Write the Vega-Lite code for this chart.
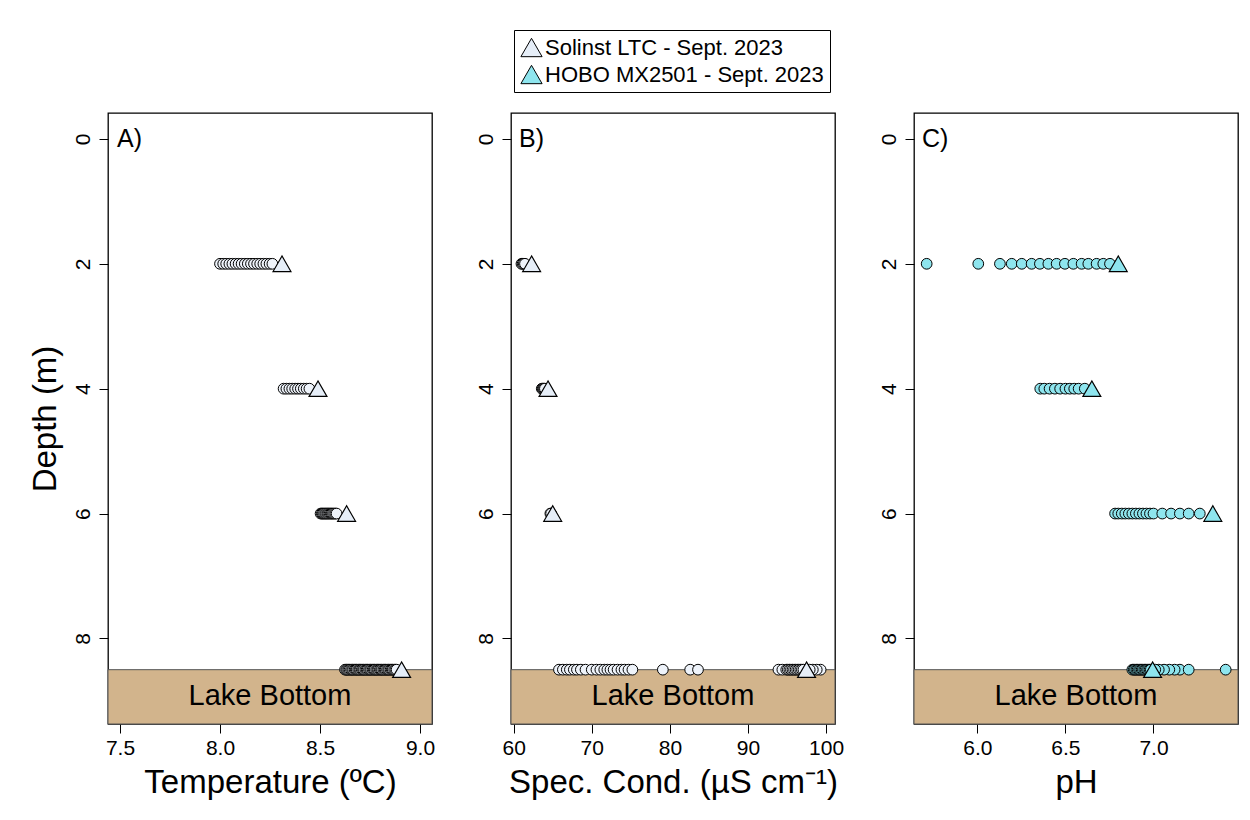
{
  "$schema": "https://vega.github.io/schema/vega-lite/v6.json",
  "background": "white",
  "padding": {"left": 28, "top": 29, "right": 5, "bottom": 5},
  "bounds": "flush",
  "spacing": 79,
  "config": {
    "font": "Liberation Sans",
    "view": {"stroke": "black", "strokeWidth": 1.3},
    "axis": {
      "domain": false, "grid": false, "ticks": true,
      "tickColor": "black", "tickSize": 9, "tickWidth": 1,
      "labelFont": "Liberation Sans", "labelFontSize": 21, "labelColor": "black",
      "titleFont": "Liberation Sans", "titleFontSize": 33, "titleFontWeight": "normal", "titleColor": "black"
    },
    "legend": {
      "orient": "none", "legendX": 406, "legendY": -83,
      "strokeColor": "black", "fillColor": "white", "padding": 6, "cornerRadius": 0,
      "labelFont": "Liberation Sans", "labelFontSize": 22, "labelColor": "black", "labelOffset": 2, "labelLimit": 0,
      "symbolType": "triangle-up", "symbolSize": 450, "symbolStrokeColor": "black", "symbolStrokeWidth": 1,
      "rowPadding": 4, "titlePadding": 0
    }
  },
  "datasets": {
    "bottom": [{"top": 8.5, "floor": 9.37, "label": "Lake Bottom", "mid": 8.92}],
    "temp_obs": [
      {"depth": 2, "v": 8.000}, {"depth": 2, "v": 8.016}, {"depth": 2, "v": 8.031}, {"depth": 2, "v": 8.047},
      {"depth": 2, "v": 8.062}, {"depth": 2, "v": 8.078}, {"depth": 2, "v": 8.093}, {"depth": 2, "v": 8.108},
      {"depth": 2, "v": 8.124}, {"depth": 2, "v": 8.139}, {"depth": 2, "v": 8.155}, {"depth": 2, "v": 8.170},
      {"depth": 2, "v": 8.186}, {"depth": 2, "v": 8.201}, {"depth": 2, "v": 8.217}, {"depth": 2, "v": 8.232},
      {"depth": 2, "v": 8.248}, {"depth": 2, "v": 8.262},
      {"depth": 4, "v": 8.318}, {"depth": 4, "v": 8.332}, {"depth": 4, "v": 8.347}, {"depth": 4, "v": 8.361},
      {"depth": 4, "v": 8.376}, {"depth": 4, "v": 8.390}, {"depth": 4, "v": 8.404}, {"depth": 4, "v": 8.419},
      {"depth": 4, "v": 8.433}, {"depth": 4, "v": 8.447},
      {"depth": 6, "v": 8.503}, {"depth": 6, "v": 8.509}, {"depth": 6, "v": 8.514}, {"depth": 6, "v": 8.520},
      {"depth": 6, "v": 8.526}, {"depth": 6, "v": 8.531}, {"depth": 6, "v": 8.537}, {"depth": 6, "v": 8.542},
      {"depth": 6, "v": 8.548}, {"depth": 6, "v": 8.554}, {"depth": 6, "v": 8.559}, {"depth": 6, "v": 8.565},
      {"depth": 6, "v": 8.571}, {"depth": 6, "v": 8.577}, {"depth": 6, "v": 8.583},
      {"depth": 8.5, "v": 8.625}, {"depth": 8.5, "v": 8.631}, {"depth": 8.5, "v": 8.636}, {"depth": 8.5, "v": 8.642},
      {"depth": 8.5, "v": 8.648}, {"depth": 8.5, "v": 8.655}, {"depth": 8.5, "v": 8.661}, {"depth": 8.5, "v": 8.666},
      {"depth": 8.5, "v": 8.673}, {"depth": 8.5, "v": 8.679}, {"depth": 8.5, "v": 8.684}, {"depth": 8.5, "v": 8.691},
      {"depth": 8.5, "v": 8.697}, {"depth": 8.5, "v": 8.702}, {"depth": 8.5, "v": 8.709}, {"depth": 8.5, "v": 8.715},
      {"depth": 8.5, "v": 8.720}, {"depth": 8.5, "v": 8.727}, {"depth": 8.5, "v": 8.733}, {"depth": 8.5, "v": 8.738},
      {"depth": 8.5, "v": 8.745}, {"depth": 8.5, "v": 8.751}, {"depth": 8.5, "v": 8.756}, {"depth": 8.5, "v": 8.763},
      {"depth": 8.5, "v": 8.769}, {"depth": 8.5, "v": 8.774}, {"depth": 8.5, "v": 8.781}, {"depth": 8.5, "v": 8.787},
      {"depth": 8.5, "v": 8.792}, {"depth": 8.5, "v": 8.799}, {"depth": 8.5, "v": 8.805}, {"depth": 8.5, "v": 8.810},
      {"depth": 8.5, "v": 8.817}, {"depth": 8.5, "v": 8.823}, {"depth": 8.5, "v": 8.828}, {"depth": 8.5, "v": 8.835},
      {"depth": 8.5, "v": 8.841}, {"depth": 8.5, "v": 8.846}, {"depth": 8.5, "v": 8.853}, {"depth": 8.5, "v": 8.859},
      {"depth": 8.5, "v": 8.864}, {"depth": 8.5, "v": 8.871}, {"depth": 8.5, "v": 8.877}, {"depth": 8.5, "v": 8.883}
    ],
    "temp_tri": [
      {"depth": 2, "v": 8.31}, {"depth": 4, "v": 8.49}, {"depth": 6, "v": 8.633}, {"depth": 8.5, "v": 8.908}
    ],
    "cond_obs": [
      {"depth": 2, "v": 61.0}, {"depth": 2, "v": 61.15}, {"depth": 2, "v": 61.3}, {"depth": 2, "v": 61.45},
      {"depth": 4, "v": 63.6}, {"depth": 4, "v": 63.7}, {"depth": 4, "v": 63.8}, {"depth": 4, "v": 63.9}, {"depth": 4, "v": 64.0},
      {"depth": 6, "v": 64.7}, {"depth": 6, "v": 64.8},
      {"depth": 8.5, "v": 65.8}, {"depth": 8.5, "v": 66.3}, {"depth": 8.5, "v": 66.8}, {"depth": 8.5, "v": 67.2},
      {"depth": 8.5, "v": 67.7}, {"depth": 8.5, "v": 68.1}, {"depth": 8.5, "v": 68.6}, {"depth": 8.5, "v": 69.2},
      {"depth": 8.5, "v": 70.0}, {"depth": 8.5, "v": 70.6}, {"depth": 8.5, "v": 71.1}, {"depth": 8.5, "v": 71.6},
      {"depth": 8.5, "v": 72.0}, {"depth": 8.5, "v": 72.4}, {"depth": 8.5, "v": 72.8}, {"depth": 8.5, "v": 73.3},
      {"depth": 8.5, "v": 73.8}, {"depth": 8.5, "v": 74.2}, {"depth": 8.5, "v": 74.7}, {"depth": 8.5, "v": 75.2},
      {"depth": 8.5, "v": 79.1}, {"depth": 8.5, "v": 82.6}, {"depth": 8.5, "v": 83.6},
      {"depth": 8.5, "v": 93.9}, {"depth": 8.5, "v": 94.4}, {"depth": 8.5, "v": 94.9}, {"depth": 8.5, "v": 95.1},
      {"depth": 8.5, "v": 95.3}, {"depth": 8.5, "v": 95.5}, {"depth": 8.5, "v": 95.7}, {"depth": 8.5, "v": 95.9},
      {"depth": 8.5, "v": 96.1}, {"depth": 8.5, "v": 96.3}, {"depth": 8.5, "v": 96.5}, {"depth": 8.5, "v": 96.7},
      {"depth": 8.5, "v": 96.9}, {"depth": 8.5, "v": 97.1}, {"depth": 8.5, "v": 99.3}, {"depth": 8.5, "v": 98.8},
      {"depth": 8.5, "v": 98.3}, {"depth": 8.5, "v": 97.9}
    ],
    "cond_tri": [
      {"depth": 2, "v": 62.3, "series": "Solinst LTC - Sept. 2023"},
      {"depth": 4, "v": 64.4, "series": "Solinst LTC - Sept. 2023"},
      {"depth": 6, "v": 65.0, "series": "Solinst LTC - Sept. 2023"},
      {"depth": 8.5, "v": 97.5, "series": "Solinst LTC - Sept. 2023"}
    ],
    "ph_obs": [
      {"depth": 2, "v": 5.712}, {"depth": 2, "v": 6.005}, {"depth": 2, "v": 6.128}, {"depth": 2, "v": 6.195},
      {"depth": 2, "v": 6.252}, {"depth": 2, "v": 6.308}, {"depth": 2, "v": 6.355}, {"depth": 2, "v": 6.403},
      {"depth": 2, "v": 6.450}, {"depth": 2, "v": 6.497}, {"depth": 2, "v": 6.545}, {"depth": 2, "v": 6.592},
      {"depth": 2, "v": 6.630}, {"depth": 2, "v": 6.677}, {"depth": 2, "v": 6.715}, {"depth": 2, "v": 6.753},
      {"depth": 4, "v": 6.357}, {"depth": 4, "v": 6.38}, {"depth": 4, "v": 6.41}, {"depth": 4, "v": 6.44},
      {"depth": 4, "v": 6.47}, {"depth": 4, "v": 6.50}, {"depth": 4, "v": 6.525}, {"depth": 4, "v": 6.55},
      {"depth": 4, "v": 6.575}, {"depth": 4, "v": 6.61},
      {"depth": 6, "v": 6.782}, {"depth": 6, "v": 6.80}, {"depth": 6, "v": 6.82}, {"depth": 6, "v": 6.84},
      {"depth": 6, "v": 6.86}, {"depth": 6, "v": 6.88}, {"depth": 6, "v": 6.90}, {"depth": 6, "v": 6.92},
      {"depth": 6, "v": 6.94}, {"depth": 6, "v": 6.96}, {"depth": 6, "v": 6.98}, {"depth": 6, "v": 7.00},
      {"depth": 6, "v": 7.05}, {"depth": 6, "v": 7.10}, {"depth": 6, "v": 7.15}, {"depth": 6, "v": 7.20}, {"depth": 6, "v": 7.263},
      {"depth": 8.5, "v": 6.880}, {"depth": 8.5, "v": 6.888}, {"depth": 8.5, "v": 6.895}, {"depth": 8.5, "v": 6.903},
      {"depth": 8.5, "v": 6.910}, {"depth": 8.5, "v": 6.918}, {"depth": 8.5, "v": 6.925}, {"depth": 8.5, "v": 6.933},
      {"depth": 8.5, "v": 6.940}, {"depth": 8.5, "v": 6.948}, {"depth": 8.5, "v": 6.955}, {"depth": 8.5, "v": 6.963},
      {"depth": 8.5, "v": 6.970}, {"depth": 8.5, "v": 6.978}, {"depth": 8.5, "v": 6.985},
      {"depth": 8.5, "v": 7.15}, {"depth": 8.5, "v": 7.12}, {"depth": 8.5, "v": 7.09}, {"depth": 8.5, "v": 7.06},
      {"depth": 8.5, "v": 7.03}, {"depth": 8.5, "v": 7.01},
      {"depth": 8.5, "v": 7.20}, {"depth": 8.5, "v": 7.41}
    ],
    "ph_tri": [
      {"depth": 2, "v": 6.80}, {"depth": 4, "v": 6.65}, {"depth": 6, "v": 7.337}, {"depth": 8.5, "v": 6.995}
    ],
    "tags": [{"depth": 0}]
  },
  "hconcat": [
    {
      "width": 324, "height": 611,
      "layer": [
        {
          "data": {"name": "bottom"},
          "mark": {"type": "rect", "fill": "#D2B48C", "stroke": "#555555", "strokeWidth": 1},
          "encoding": {
            "y": {"field": "top", "type": "quantitative", "scale": {"domain": [-0.415, 9.37], "reverse": true, "nice": false, "zero": false},
                  "axis": {"values": [0, 2, 4, 6, 8], "format": "d", "labelAngle": -90, "labelPadding": 6, "title": "Depth (m)", "titlePadding": 10}},
            "y2": {"field": "floor"}
          }
        },
        {
          "data": {"name": "bottom"},
          "mark": {"type": "text", "fontSize": 29, "font": "Liberation Sans", "color": "black"},
          "encoding": {
            "y": {"field": "mid", "type": "quantitative"},
            "text": {"field": "label"}
          }
        },
        {
          "data": {"name": "tags"},
          "mark": {"type": "text", "text": "A)", "fontSize": 25, "align": "left", "baseline": "middle", "color": "black"},
          "encoding": {
            "x": {"datum": 7.485, "type": "quantitative"},
            "y": {"field": "depth", "type": "quantitative"}
          }
        },
        {
          "data": {"name": "temp_obs"},
          "mark": {"type": "point", "shape": "circle", "filled": true, "size": 115, "fill": "#EEF3FA", "stroke": "black", "strokeWidth": 1, "opacity": 1},
          "encoding": {
            "x": {"field": "v", "type": "quantitative", "scale": {"domain": [7.44, 9.06], "nice": false, "zero": false},
                  "axis": {"values": [7.5, 8.0, 8.5, 9.0], "format": ".1f", "labelPadding": 4, "title": "Temperature (ºC)", "titlePadding": 8}},
            "y": {"field": "depth", "type": "quantitative"}
          }
        },
        {
          "data": {"name": "temp_tri"},
          "mark": {"type": "point", "shape": "triangle-up", "filled": true, "size": 320, "fill": "#E6EEF8", "stroke": "black", "strokeWidth": 1.2, "opacity": 1},
          "encoding": {
            "x": {"field": "v", "type": "quantitative"},
            "y": {"field": "depth", "type": "quantitative"}
          }
        }
      ]
    },
    {
      "width": 324, "height": 611,
      "layer": [
        {
          "data": {"name": "bottom"},
          "mark": {"type": "rect", "fill": "#D2B48C", "stroke": "#555555", "strokeWidth": 1},
          "encoding": {
            "y": {"field": "top", "type": "quantitative", "scale": {"domain": [-0.415, 9.37], "reverse": true, "nice": false, "zero": false},
                  "axis": {"values": [0, 2, 4, 6, 8], "format": "d", "labelAngle": -90, "labelPadding": 6, "title": null}},
            "y2": {"field": "floor"}
          }
        },
        {
          "data": {"name": "bottom"},
          "mark": {"type": "text", "fontSize": 29, "font": "Liberation Sans", "color": "black"},
          "encoding": {
            "y": {"field": "mid", "type": "quantitative"},
            "text": {"field": "label"}
          }
        },
        {
          "data": {"name": "tags"},
          "mark": {"type": "text", "text": "B)", "fontSize": 25, "align": "left", "baseline": "middle", "color": "black"},
          "encoding": {
            "x": {"datum": 60.7, "type": "quantitative"},
            "y": {"field": "depth", "type": "quantitative"}
          }
        },
        {
          "data": {"name": "cond_obs"},
          "mark": {"type": "point", "shape": "circle", "filled": true, "size": 115, "fill": "#EEF3FA", "stroke": "black", "strokeWidth": 1, "opacity": 1},
          "encoding": {
            "x": {"field": "v", "type": "quantitative", "scale": {"domain": [59.66, 101.14], "nice": false, "zero": false},
                  "axis": {"values": [60, 70, 80, 90, 100], "format": "d", "labelPadding": 4, "title": "Spec. Cond. (µS cm⁻¹)", "titlePadding": 8}},
            "y": {"field": "depth", "type": "quantitative"}
          }
        },
        {
          "data": {"name": "cond_tri"},
          "mark": {"type": "point", "shape": "triangle-up", "filled": true, "size": 320, "stroke": "black", "strokeWidth": 1.2, "opacity": 1},
          "encoding": {
            "x": {"field": "v", "type": "quantitative"},
            "y": {"field": "depth", "type": "quantitative"},
            "fill": {"field": "series", "type": "nominal",
                     "scale": {"domain": ["Solinst LTC - Sept. 2023", "HOBO MX2501 - Sept. 2023"], "range": ["#E6EEF8", "#8EE5EE"]},
                     "legend": {"title": null}}
          }
        }
      ]
    },
    {
      "width": 324, "height": 611,
      "layer": [
        {
          "data": {"name": "bottom"},
          "mark": {"type": "rect", "fill": "#D2B48C", "stroke": "#555555", "strokeWidth": 1},
          "encoding": {
            "y": {"field": "top", "type": "quantitative", "scale": {"domain": [-0.415, 9.37], "reverse": true, "nice": false, "zero": false},
                  "axis": {"values": [0, 2, 4, 6, 8], "format": "d", "labelAngle": -90, "labelPadding": 6, "title": null}},
            "y2": {"field": "floor"}
          }
        },
        {
          "data": {"name": "bottom"},
          "mark": {"type": "text", "fontSize": 29, "font": "Liberation Sans", "color": "black"},
          "encoding": {
            "y": {"field": "mid", "type": "quantitative"},
            "text": {"field": "label"}
          }
        },
        {
          "data": {"name": "tags"},
          "mark": {"type": "text", "text": "C)", "fontSize": 25, "align": "left", "baseline": "middle", "color": "black"},
          "encoding": {
            "x": {"datum": 5.685, "type": "quantitative"},
            "y": {"field": "depth", "type": "quantitative"}
          }
        },
        {
          "data": {"name": "ph_obs"},
          "mark": {"type": "point", "shape": "circle", "filled": true, "size": 115, "fill": "#8EE5EE", "stroke": "black", "strokeWidth": 1, "opacity": 1},
          "encoding": {
            "x": {"field": "v", "type": "quantitative", "scale": {"domain": [5.64, 7.48], "nice": false, "zero": false},
                  "axis": {"values": [6.0, 6.5, 7.0], "format": ".1f", "labelPadding": 4, "title": "pH", "titlePadding": 8}},
            "y": {"field": "depth", "type": "quantitative"}
          }
        },
        {
          "data": {"name": "ph_tri"},
          "mark": {"type": "point", "shape": "triangle-up", "filled": true, "size": 320, "fill": "#8EE5EE", "stroke": "black", "strokeWidth": 1.2, "opacity": 1},
          "encoding": {
            "x": {"field": "v", "type": "quantitative"},
            "y": {"field": "depth", "type": "quantitative"}
          }
        }
      ]
    }
  ]
}
